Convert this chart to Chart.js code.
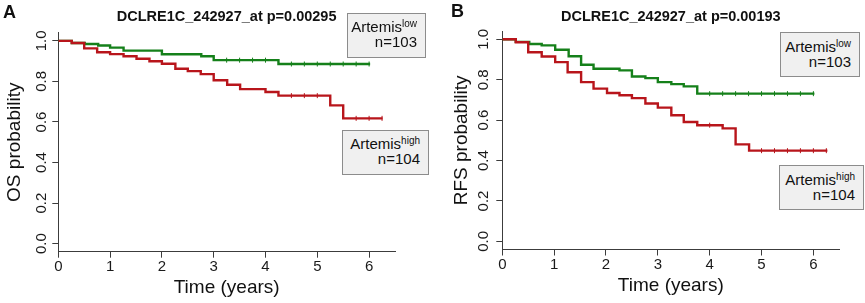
<!DOCTYPE html>
<html><head><meta charset="utf-8">
<script src="https://cdn.jsdelivr.net/npm/chart.js@4.4.1/dist/chart.umd.min.js"></script>
<style>
html,body{margin:0;padding:0;background:#fff;}
#wrap{position:relative;width:865px;height:303px;overflow:hidden;font-family:'Liberation Sans',Arial,sans-serif;}
canvas{position:absolute;top:0;}
.lbl{position:absolute;font-weight:bold;font-size:18px;line-height:18px;color:#111;}
.box{position:absolute;box-sizing:border-box;border:1px solid #8c8c8c;background:#f0f0f0;font-size:15px;line-height:15px;text-align:right;color:#111;}
.box .sup{font-size:10px;position:relative;top:-5px;line-height:0;}
</style></head>
<body><div id="wrap">
<canvas id="cA" width="432" height="303" style="left:0"></canvas>
<canvas id="cB" width="435" height="303" style="left:430px"></canvas>
<div class="lbl" style="left:3px;top:3px">A</div>
<div class="lbl" style="left:451px;top:2px">B</div>
<div class="box" style="left:347px;top:13px;width:79px;height:45px;padding:5px 8px 0 0">Artemis<span class="sup">low</span><br>n=103</div>
<div class="box" style="left:342px;top:130px;width:87px;height:45px;padding:5px 8px 0 0">Artemis<span class="sup">high</span><br>n=104</div>
<div class="box" style="left:780px;top:32px;width:80px;height:45px;padding:6px 8px 0 0">Artemis<span class="sup">low</span><br>n=103</div>
<div class="box" style="left:779px;top:165px;width:85px;height:45px;padding:6px 8px 0 0">Artemis<span class="sup">high</span><br>n=104</div>
</div>
<script>
// ---- tick labels ----
const xTickValues = [0, 1, 2, 3, 4, 5, 6];
const xTickLabels = ['0', '1', '2', '3', '4', '5', '6'];
const yTickValues = [0, 0.2, 0.4, 0.6, 0.8, 1.0];
const yTickLabels = ['0.0', '0.2', '0.4', '0.6', '0.8', '1.0'];

// ---- Panel A: overall survival (OS) ----
const osLowT  = [0, 0.26, 0.51, 0.77, 1.0, 1.26, 2.0, 2.76, 3.0, 4.25, 6.02];
const osLowS  = [1.0, 0.99, 0.985, 0.977, 0.967, 0.952, 0.934, 0.924, 0.905, 0.886, 0.886];
const osHighT = [0, 0.26, 0.5, 0.75, 1.0, 1.26, 1.51, 1.76, 2.0, 2.26, 2.5, 2.75, 3.0, 3.26, 3.51, 4.0, 4.25, 5.25, 5.5, 6.26];
const osHighS = [1.0, 0.99, 0.963, 0.944, 0.935, 0.924, 0.912, 0.90, 0.887, 0.863, 0.851, 0.836, 0.806, 0.784, 0.762, 0.748, 0.73, 0.682, 0.618, 0.618];
const osLowCensT  = [3.25, 3.5, 3.75, 4.0, 4.5, 4.75, 5.0, 5.25, 5.5, 5.75, 6.0];
const osLowCensS  = [0.905, 0.905, 0.905, 0.905, 0.886, 0.886, 0.886, 0.886, 0.886, 0.886, 0.886];
const osHighCensT = [4.5, 4.75, 5.0, 5.75, 6.0, 6.25];
const osHighCensS = [0.73, 0.73, 0.73, 0.618, 0.618, 0.618];

// ---- Panel B: relapse-free survival (RFS) ----
const rfsLowT  = [0, 0.26, 0.52, 0.76, 1.02, 1.28, 1.52, 1.76, 2.26, 2.5, 2.76, 3.0, 3.26, 3.5, 3.76, 6.02];
const rfsLowS  = [1.0, 0.987, 0.977, 0.970, 0.948, 0.916, 0.874, 0.854, 0.846, 0.816, 0.808, 0.788, 0.778, 0.767, 0.731, 0.731];
const rfsHighT = [0, 0.26, 0.5, 0.76, 1.02, 1.26, 1.52, 1.76, 2.02, 2.26, 2.5, 2.76, 3.0, 3.26, 3.5, 3.76, 4.25, 4.5, 4.76, 6.27];
const rfsHighS = [1.0, 0.985, 0.936, 0.915, 0.887, 0.837, 0.788, 0.756, 0.734, 0.723, 0.709, 0.682, 0.662, 0.624, 0.591, 0.575, 0.559, 0.48, 0.449, 0.449];
const rfsLowCensT  = [4.0, 4.25, 4.5, 4.75, 5.0, 5.25, 5.5, 5.75, 6.0];
const rfsLowCensS  = [0.731, 0.731, 0.731, 0.731, 0.731, 0.731, 0.731, 0.731, 0.731];
const rfsHighCensT = [4.0, 5.0, 5.25, 5.5, 5.75, 6.0, 6.25];
const rfsHighCensS = [0.575, 0.449, 0.449, 0.449, 0.449, 0.449, 0.449];

const GREEN = '#15801a';
const RED = '#b8151b';
const AXIS = '#3c3c3c';
const FAM = "'Liberation Sans', Arial, sans-serif";

function pts(T, S) { return T.map((t, i) => ({ x: t, y: S[i] })); }

function curve(label, T, S, color, order) {
  return { label, data: pts(T, S), showLine: true, stepped: true, borderColor: color,
           borderWidth: 2.4, pointRadius: 0, fill: false, order };
}
function cens(label, T, S, color, order) {
  return { label, data: pts(T, S), showLine: false, pointStyle: 'line', pointRotation: 90,
           pointRadius: 2.5, pointBorderColor: color, pointBackgroundColor: color,
           pointBorderWidth: 1, order };
}

function makeChart(id, o) {
  return new Chart(document.getElementById(id), {
    type: 'scatter',
    data: { datasets: [
      curve('Artemis high', o.highT, o.highS, RED, 0),
      cens('Artemis high censored', o.highCT, o.highCS, RED, 0),
      curve('Artemis low', o.lowT, o.lowS, GREEN, 1),
      cens('Artemis low censored', o.lowCT, o.lowCS, GREEN, 1)
    ] },
    options: {
      responsive: false, animation: false, devicePixelRatio: 1,
      layout: { padding: { left: 0, right: o.padR, top: 0, bottom: 0 } },
      plugins: {
        legend: { display: false }, tooltip: { enabled: false },
        title: { display: true, text: o.title, fullSize: false, color: '#111',
                 font: { family: FAM, size: 14.5, weight: 'bold' },
                 padding: { top: 7.9, bottom: o.titlePadB } }
      },
      scales: {
        x: {
          type: 'linear', min: 0, max: 6.5,
          afterBuildTicks: s => { s.ticks = xTickValues.map(v => ({ value: v })); },
          afterFit: s => { s.height = o.xH; },
          ticks: { callback: (v, i) => xTickLabels[i], color: '#1a1a1a', padding: o.xTickPad,
                   maxRotation: 0, autoSkip: false, font: { family: FAM, size: 15 } },
          grid: { display: true, drawOnChartArea: false, drawTicks: true, tickLength: 6, color: AXIS, lineWidth: 1 },
          border: { display: true, color: AXIS, width: 1 },
          title: { display: true, text: 'Time (years)', color: '#111',
                   font: { family: FAM, size: 19 }, padding: { top: 0, bottom: o.xTitlePadB } }
        },
        y: {
          type: 'linear', min: -0.04, max: 1.04,
          afterBuildTicks: s => { s.ticks = yTickValues.map(v => ({ value: v })); },
          afterFit: s => { s.width = o.yW; },
          ticks: { callback: (v, i) => yTickLabels[i], color: '#1a1a1a', padding: o.yTickPad,
                   minRotation: 90, maxRotation: 90, crossAlign: 'center', autoSkip: false,
                   font: { family: FAM, size: 15 } },
          grid: { display: true, drawOnChartArea: false, drawTicks: true, tickLength: 6, color: AXIS, lineWidth: 1 },
          border: { display: true, color: AXIS, width: 1 },
          title: { display: true, text: o.ylabel, color: '#111',
                   font: { family: FAM, size: 19 }, padding: { top: o.yTitlePadT, bottom: 0 } }
        }
      }
    }
  });
}

makeChart('cA', {
  title: 'DCLRE1C_242927_at p=0.00295', ylabel: 'OS probability',
  lowT: osLowT, lowS: osLowS, highT: osHighT, highS: osHighS,
  lowCT: osLowCensT, lowCS: osLowCensS, highCT: osHighCensT, highCS: osHighCensS,
  padR: 37, yW: 58.3, xH: 51.3, titlePadB: 7.5, xTickPad: 0.4, xTitlePadB: 4, yTickPad: 0.3, yTitlePadT: 3.6
});
makeChart('cB', {
  title: 'DCLRE1C_242927_at p=0.00193', ylabel: 'RFS probability',
  lowT: rfsLowT, lowS: rfsLowS, highT: rfsHighT, highS: rfsHighS,
  lowCT: rfsLowCensT, lowCS: rfsLowCensS, highCT: rfsHighCensT, highCS: rfsHighCensS,
  padR: 25.7, yW: 72.3, xH: 53.5, titlePadB: 5.9, xTickPad: 0.4, xTitlePadB: 5.5, yTickPad: 1.9, yTitlePadT: 20.3
});
</script>
</body></html>
